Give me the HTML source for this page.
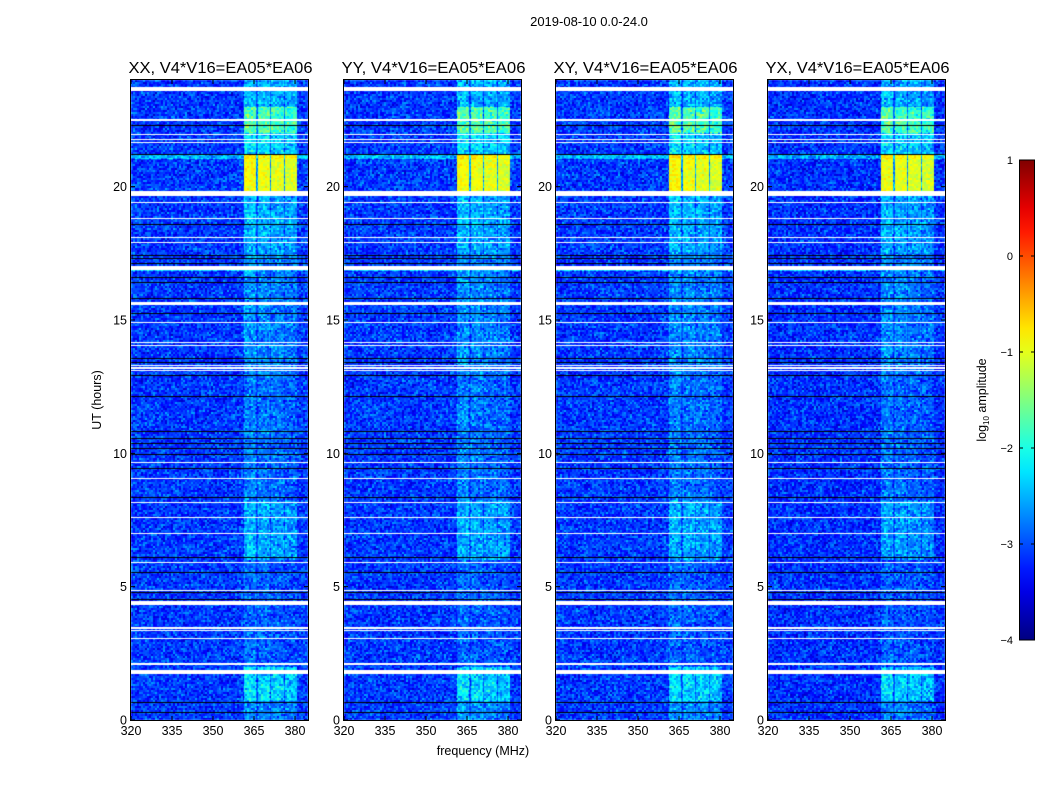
<!DOCTYPE html>
<html><head><meta charset="utf-8">
<style>
html,body{margin:0;padding:0;background:#fff;}
#wrap{position:relative;width:1050px;height:800px;overflow:hidden;font-family:"Liberation Sans","DejaVu Sans",sans-serif;}
canvas,svg{position:absolute;left:0;top:0;}
</style></head>
<body>
<div id="wrap">
<canvas id="cv" width="1050" height="800"></canvas>
<svg id="sv" width="1050" height="800"></svg>
</div>
<script>
// ---- data ----
const panelTitles = ["XX, V4*V16=EA05*EA06","YY, V4*V16=EA05*EA06","XY, V4*V16=EA05*EA06","YX, V4*V16=EA05*EA06"];
const panelOffset = [0, 0, 0, -0.05];
const xTicks = [320,335,350,365,380];
const yTicks = [0,5,10,15,20];
const cbTicks = [1,0,-1,-2,-3,-4];
const backgroundLevel = -3.1;
const bandStart = [361.3,366.3,371.1,376.2];
const bandEnd   = [365.8,370.7,375.8,380.7];
const bandShift = [0.05,0.0,-0.05,-0.1];
// time segments of band amplitude [startHr, endHr, log10 amp]
const segStart = [0.0,0.7,2.0,6.0,8.2,13.0,17.5,18.2,19.8,21.2,22.0,23.0];
const segEnd   = [0.7,2.0,6.0,8.2,13.0,17.5,18.2,19.7,21.2,22.0,23.0,24.0];
const segLevel = [-2.7,-2.3,-2.9,-2.55,-2.8,-2.7,-2.55,-2.5,-0.95,-2.3,-1.75,-2.5];
// bright full-row stripes [startHr,endHr,boost]
const rowStart = [21.05,16.85];
const rowEnd   = [21.2,17.0];
const rowBoost = [0.6,0.7];
// flagged (white) rows: centre hour, thickness hours
const whiteHour = [23.66,22.5,21.97,21.78,21.67,19.75,19.39,18.82,18.11,17.89,16.95,15.67,15.6,14.89,14.14,14.06,13.31,13.2,13.09,9.67,9.07,8.14,7.61,7.01,5.89,4.84,4.39,3.45,3.34,3.04,2.1,1.8];
const whiteWidth= [0.12,0.04,0.04,0.04,0.04,0.19,0.04,0.04,0.04,0.04,0.15,0.04,0.04,0.04,0.04,0.04,0.04,0.04,0.04,0.04,0.04,0.04,0.04,0.04,0.04,0.04,0.15,0.04,0.04,0.04,0.04,0.15];
// black rows
const blackHour = [22.31,21.22,18.6,17.44,17.32,17.14,16.61,16.42,15.82,15.26,13.57,13.42,12.94,12.15,10.84,10.57,10.39,10.2,9.97,9.45,8.36,6.11,5.55,4.8,4.54,0.67,0.3];

// ---- layout ----
const panelX = [131,344,556,768];
const PW = 177, PT = 80, PB = 720;
const fMin = 320, fMax = 320 + PW/ (164/60);
const tMin = 0, tMax = 24;
function xScale(p,f){return panelX[p] + (f-fMin)/(fMax-fMin)*PW;}
function yScale(h){return PB - (h-tMin)/(tMax-tMin)*(PB-PT);}
function hourAt(py){return tMin + (PB-py)/(PB-PT)*(tMax-tMin);}
function freqAt(px){return fMin + px/PW*(fMax-fMin);}
function clamp(v){return v<0?0:v>1?1:v;}
function jet(v){const t=clamp((v+4)/5);return [clamp(1.5-Math.abs(4*t-3)),clamp(1.5-Math.abs(4*t-2)),clamp(1.5-Math.abs(4*t-1))];}
function tex(a,b,c){let h=(a*374761393+b*668265263+c*2246822519)|0;h=(h^(h>>>13))*1274126177|0;h=h^(h>>>16);return (h>>>0)/4294967296;}

const cv=document.getElementById('cv');const ctx=cv.getContext('2d');
for(let p=0;p<4;p++){
  const img=ctx.createImageData(PW,PB-PT);
  for(let py=0;py<PB-PT;py++){
    const h=hourAt(PT+py+0.5);
    let seg=backgroundLevel;
    for(let s=0;s<segStart.length;s++){if(h>=segStart[s]&&h<segEnd[s]){seg=segLevel[s];break;}}
    let rb=0;for(let r=0;r<rowStart.length;r++){if(h>=rowStart[r]&&h<rowEnd[r])rb=rowBoost[r];}
    for(let px=0;px<PW;px++){
      const f=freqAt(px+0.5);
      let v=backgroundLevel+rb, inBand=false;
      if(f>=bandStart[0]&&f<bandEnd[bandEnd.length-1]){v=backgroundLevel+0.25*(seg-backgroundLevel)+rb*0.5;}
      for(let b=0;b<bandStart.length;b++){if(f>=bandStart[b]&&f<bandEnd[b]){v=Math.max(seg+bandShift[b],backgroundLevel)+rb*0.3;inBand=true;}}
      v+=panelOffset[p];
      const n=(tex(px>>1,py>>1,p)+tex(px>>1,py>>1,p+7)-1);
      v+= n*(inBand?(seg>-1.5?0.3:0.6):0.6);
      const c=jet(v);const i=(py*PW+px)*4;
      img.data[i]=c[0]*255;img.data[i+1]=c[1]*255;img.data[i+2]=c[2]*255;img.data[i+3]=255;
    }
  }
  ctx.putImageData(img,panelX[p],PT);
  ctx.fillStyle='#fff';
  for(let w=0;w<whiteHour.length;w++){
    const y0=Math.round(yScale(whiteHour[w]+whiteWidth[w]/2)), y1=Math.round(yScale(whiteHour[w]-whiteWidth[w]/2));
    ctx.fillRect(panelX[p],y0,PW,Math.max(1,y1-y0));
  }
  ctx.fillStyle='#000';
  for(let k=0;k<blackHour.length;k++){ctx.fillRect(panelX[p],Math.round(yScale(blackHour[k])),PW,1);}
}

// ---- svg overlay ----
const NS='http://www.w3.org/2000/svg';const sv=document.getElementById('sv');
function el(tag,attrs,parent){const e=document.createElementNS(NS,tag);for(const k in attrs)e.setAttribute(k,attrs[k]);(parent||sv).appendChild(e);return e;}
let t=el('text',{x:589,y:26,'text-anchor':'middle','font-size':13});t.textContent='2019-08-10 0.0-24.0';


for(let p=0;p<4;p++){
  const g=el('g',{});
  
  
  const fr=el('rect',{x:panelX[p]-0.5,y:PT-0.5,width:PW+1,height:PB-PT+1,fill:'none',stroke:'#000','stroke-width':1},g);
  
  
  const tt=el('text',{x:panelX[p]+PW/2+1,y:73,'text-anchor':'middle','font-size':15.5,textLength:184,lengthAdjust:'spacingAndGlyphs'},g);tt.textContent=panelTitles[p];
  
  
  xTicks.forEach(v=>{const x=xScale(p,v);
    el('line',{x1:x,x2:x,y1:PB,y2:PB-4,stroke:'#000'},g);el('line',{x1:x,x2:x,y1:PT,y2:PT+4,stroke:'#000'},g);
    const l=el('text',{x:x,y:PB+15,'text-anchor':'middle','font-size':12.5},g);l.textContent=v;
    
    });
  yTicks.forEach(v=>{const y=yScale(v);
    el('line',{x1:panelX[p],x2:panelX[p]+4,y1:y,y2:y,stroke:'#000'},g);el('line',{x1:panelX[p]+PW,x2:panelX[p]+PW-4,y1:y,y2:y,stroke:'#000'},g);
    const l=el('text',{x:panelX[p]-4,y:y+4.5,'text-anchor':'end','font-size':12.5},g);l.textContent=v;
    
    });
}
t=el('text',{x:483,y:755,'text-anchor':'middle','font-size':12.5});t.textContent='frequency (MHz)';


t=el('text',{x:0,y:0,'text-anchor':'middle','font-size':12.5,transform:'translate(101,400) rotate(-90)'});t.textContent='UT (hours)';


// colorbar
const defs=el('defs',{});const lg=el('linearGradient',{id:'jg',x1:0,y1:1,x2:0,y2:0},defs);
for(let i=0;i<=20;i++){const c=jet(-4+5*i/20);el('stop',{offset:i/20,'stop-color':'rgb('+c.map(x=>Math.round(x*255)).join(',')+')'},lg);}
const cbTop=160,cbBot=640;
function cbScale(v){return cbBot-(v+4)/5*(cbBot-cbTop);}
const cb=el('rect',{x:1019.5,y:cbTop,width:15,height:cbBot-cbTop,fill:'url(#jg)',stroke:'#000','stroke-width':1});


cbTicks.forEach(v=>{const y=cbScale(v);
  el('line',{x1:1019.5,x2:1023,y1:y,y2:y,stroke:'#000'});el('line',{x1:1034.5,x2:1031,y1:y,y2:y,stroke:'#000'});
  const l=el('text',{x:1013,y:y+4,'text-anchor':'end','font-size':11});l.textContent=(v<0?'\u2212'+(-v):v);
  
  });
t=el('text',{x:0,y:0,'text-anchor':'middle','font-size':12.5,transform:'translate(986,400) rotate(-90)'});
t.innerHTML='log<tspan font-size="8" dy="3">10</tspan><tspan dy="-3"> amplitude</tspan>';


</script>
</body></html>
